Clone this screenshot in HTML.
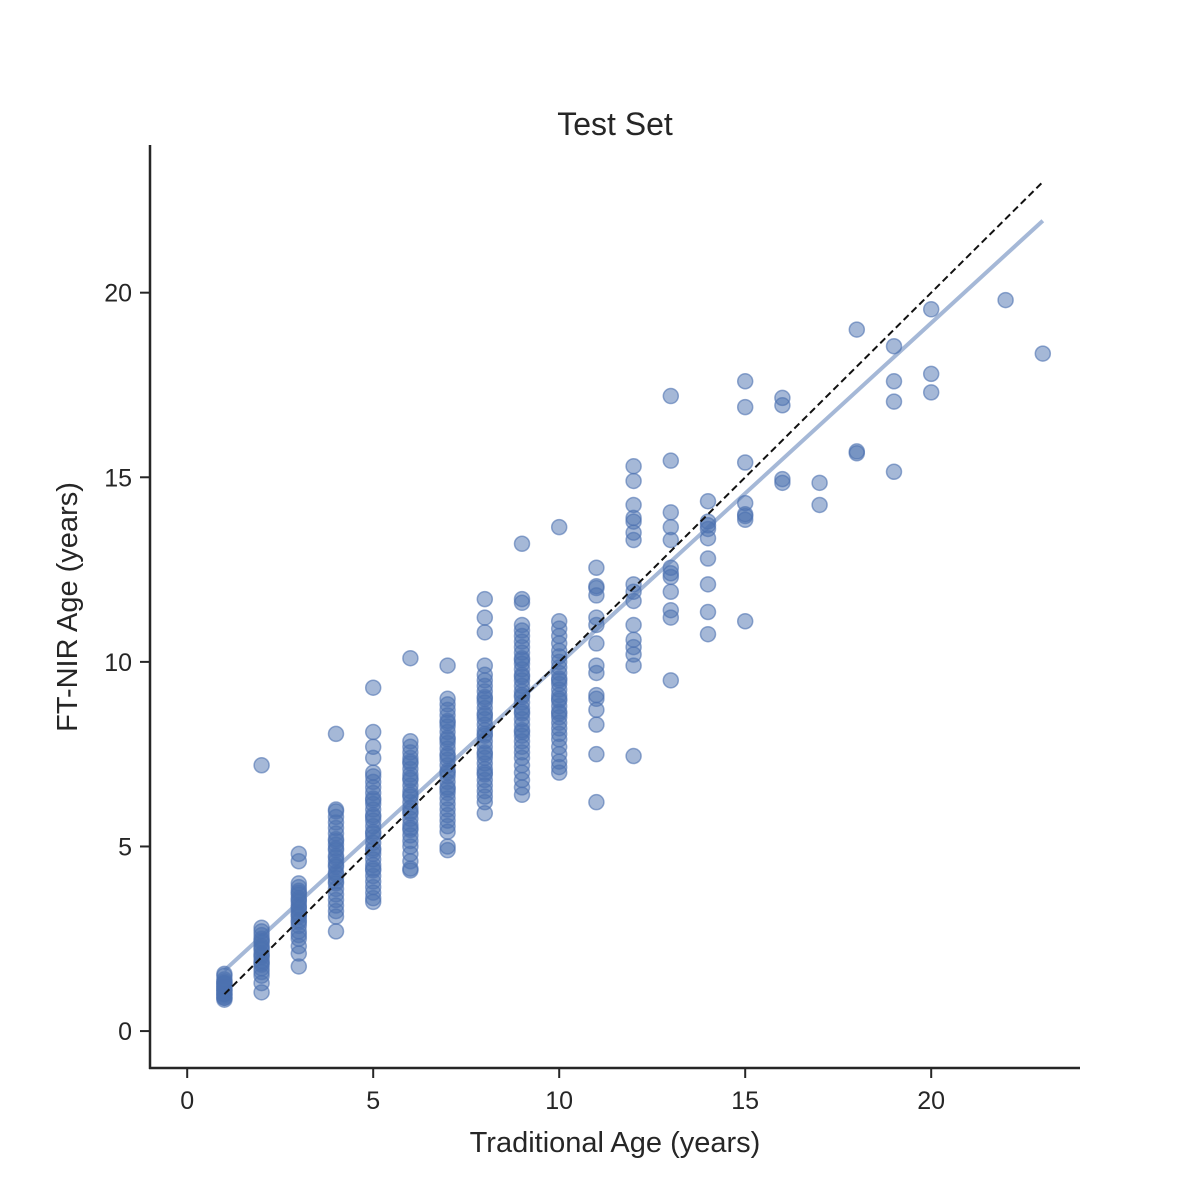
<!DOCTYPE html>
<html><head><meta charset="utf-8"><style>
html,body{margin:0;padding:0;background:#fff;}
svg{display:block;font-family:"Liberation Sans",Arial,sans-serif;}
</style></head><body>
<svg id="chart" width="1200" height="1200" viewBox="0 0 1200 1200">
<text x="615" y="135" font-size="32" text-anchor="middle" fill="#262626">Test Set</text>
<g id="marks"></g>
<g id="axes"></g>
<text x="615" y="1152" font-size="29" text-anchor="middle" fill="#262626">Traditional Age (years)</text>
<text transform="translate(77,607) rotate(-90)" font-size="29" text-anchor="middle" fill="#262626">FT-NIR Age (years)</text>
</svg>
<script>
const ages = [1,2,3,4,5,6,7,8,9,10,11,12,13,14,15,16,17,18,19,20,22,23];
const predicted = [
[0.85,0.9,0.95,1.0,1.05,1.1,1.15,1.2,1.25,1.3,1.35,1.4,1.5,1.55,0.9,1.0,1.1,1.2,1.3],
[1.05,1.3,1.5,1.6,1.7,1.8,1.9,2.0,2.1,2.2,2.3,2.4,2.5,2.6,2.7,2.8,7.2,1.85,2.05,2.25,2.45],
[1.75,2.1,2.3,2.5,2.6,2.7,2.85,3.0,3.1,3.2,3.3,3.4,3.5,3.6,3.7,3.8,3.9,4.0,4.6,4.8,2.95,3.15,3.35,3.55,3.75],
[2.7,3.1,3.25,3.4,3.55,3.7,3.85,4.0,4.15,4.3,4.45,4.6,4.75,4.9,5.05,5.2,5.35,5.5,5.65,5.8,5.95,6.0,8.05,4.05,4.25,4.5,4.7,4.95,5.15],
[3.5,3.6,3.75,3.9,4.05,4.2,4.35,4.5,4.65,4.8,4.95,5.1,5.25,5.4,5.55,5.7,5.85,6.0,6.15,6.3,6.45,6.6,6.75,6.9,7.0,7.4,7.7,8.1,9.3,4.4,4.9,5.35,5.8,6.25],
[4.35,4.4,4.6,4.8,5.0,5.15,5.3,5.45,5.6,5.75,5.9,6.05,6.2,6.35,6.5,6.65,6.8,6.95,7.1,7.25,7.4,7.55,7.7,7.85,10.1,5.5,5.95,6.4,6.85,7.3],
[4.9,5.0,5.4,5.55,5.7,5.85,6.0,6.15,6.3,6.45,6.6,6.75,6.9,7.05,7.2,7.35,7.5,7.65,7.8,7.95,8.1,8.25,8.4,8.55,8.7,8.85,9.0,9.9,6.55,7.0,7.45,7.9,8.35],
[5.9,6.2,6.35,6.5,6.65,6.8,6.95,7.1,7.25,7.4,7.55,7.7,7.85,8.0,8.15,8.3,8.45,8.6,8.75,8.9,9.05,9.2,9.35,9.5,9.65,9.9,10.8,11.2,11.7,7.0,7.5,8.05,8.55,9.0],
[6.4,6.6,6.8,7.0,7.2,7.4,7.55,7.7,7.85,8.0,8.15,8.3,8.45,8.6,8.75,8.9,9.05,9.2,9.35,9.5,9.65,9.8,9.95,10.1,10.25,10.4,10.55,10.7,10.85,11.0,11.6,11.7,13.2,8.1,8.65,9.1,9.6,10.05],
[7.0,7.15,7.3,7.5,7.7,7.9,8.05,8.2,8.35,8.5,8.65,8.8,8.95,9.1,9.25,9.4,9.55,9.7,9.85,10.0,10.15,10.3,10.5,10.7,10.9,11.1,13.65,8.6,9.0,9.5],
[6.2,7.5,8.3,8.7,9.0,9.1,9.7,9.9,10.5,11.0,11.2,11.8,12.0,12.05,12.55],
[7.45,9.9,10.2,10.4,10.6,11.0,11.65,11.9,12.1,13.3,13.5,13.8,13.9,14.25,14.9,15.3],
[9.5,11.2,11.4,11.9,12.3,12.4,12.55,13.3,13.65,14.05,15.45,17.2],
[10.75,11.35,12.1,12.8,13.35,13.6,13.7,13.8,14.35],
[11.1,13.85,13.95,14.0,14.3,15.4,16.9,17.6],
[14.85,14.95,16.95,17.15],
[14.25,14.85],
[15.65,15.7,19.0],
[15.15,17.05,17.6,18.55],
[17.3,17.8,19.55],
[19.8],
[18.35]
];
const xTicks = [0,5,10,15,20];
const yTicks = [0,5,10,15,20];
const fitSlope = 0.923;
const fitIntercept = 0.72;
const fitRange = [1,23];
const identityRange = [1,23];

const NS="http://www.w3.org/2000/svg";
const L=150,R=1080,T=145,B=1068, xmin=-1,xmax=24,ymin=-1,ymax=24;
const X=v=>L+(v-xmin)/(xmax-xmin)*(R-L);
const Y=v=>B-(v-ymin)/(ymax-ymin)*(B-T);
function mk(tag,attrs,parent){const e=document.createElementNS(NS,tag);for(const k in attrs)e.setAttribute(k,attrs[k]);parent.appendChild(e);return e;}
const marks=document.getElementById('marks'), axes=document.getElementById('axes');
ages.forEach((a,i)=>{predicted[i].forEach(p=>{
  const c=mk('circle',{cx:X(a),cy:Y(p),r:7.5,fill:'rgba(76,114,176,0.5)',stroke:'rgba(76,114,176,0.6)','stroke-width':1.5},marks);
  
  
});});
const fit=mk('line',{x1:X(fitRange[0]),y1:Y(fitIntercept+fitSlope*fitRange[0]),x2:X(fitRange[1]),y2:Y(fitIntercept+fitSlope*fitRange[1]),stroke:'rgba(76,114,176,0.5)','stroke-width':4},marks);


const id=mk('line',{x1:X(identityRange[0]),y1:Y(identityRange[0]),x2:X(identityRange[1]),y2:Y(identityRange[1]),stroke:'#111','stroke-width':2,'stroke-dasharray':'7,4'},marks);


const ls=mk('line',{x1:L,y1:T,x2:L,y2:B+1,stroke:'#262626','stroke-width':2.5},axes);


const bs=mk('line',{x1:L-1,y1:B,x2:R,y2:B,stroke:'#262626','stroke-width':2.5},axes);


xTicks.forEach(t=>{
  mk('line',{x1:X(t),y1:B,x2:X(t),y2:B+10,stroke:'#262626','stroke-width':2},axes);
  const tx=mk('text',{x:X(t),y:B+41,'font-size':25,'text-anchor':'middle',fill:'#262626'},axes);
  tx.textContent=t;
  
  
});
yTicks.forEach(t=>{
  mk('line',{x1:L-10,y1:Y(t),x2:L,y2:Y(t),stroke:'#262626','stroke-width':2},axes);
  const tx=mk('text',{x:L-18,y:Y(t)+9,'font-size':25,'text-anchor':'end',fill:'#262626'},axes);
  tx.textContent=t;
  
  
});
</script>
</body></html>
